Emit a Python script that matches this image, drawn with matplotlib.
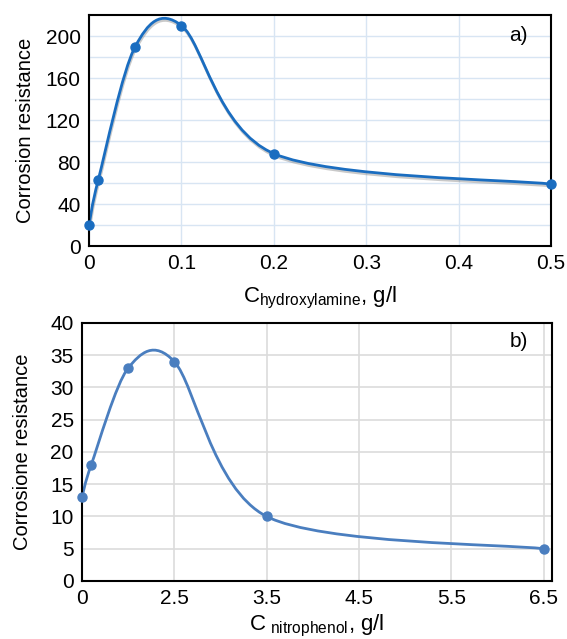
import numpy as np
import matplotlib
matplotlib.use("Agg")
import matplotlib.pyplot as plt
from matplotlib.path import Path
from matplotlib.patches import PathPatch
import matplotlib.patheffects as pe

plt.rcParams['font.family'] = ['Liberation Sans', 'DejaVu Sans']
plt.rcParams['mathtext.fontset'] = 'custom'
plt.rcParams['mathtext.rm'] = 'Liberation Sans'

# a) hydroxylamine
x_a = [0, 0.01, 0.05, 0.1, 0.2, 0.5]
y_a = [20, 63, 190, 210, 88, 59]
xticks_a = [0, 0.1, 0.2, 0.3, 0.4, 0.5]
xticklabels_a = ["0", "0.1", "0.2", "0.3", "0.4", "0.5"]
yticks_a = [0, 40, 80, 120, 160, 200]

# b) nitrophenol (axis spacing is not linear)
x_b = [0, 0.25, 1.25, 2.5, 3.5, 6.5]
y_b = [13, 18, 33, 34, 10, 5]
xticks_b = [0, 2.5, 3.5, 4.5, 5.5, 6.5]
xticklabels_b = ["0", "2.5", "3.5", "4.5", "5.5", "6.5"]
yticks_b = [0, 5, 10, 15, 20, 25, 30, 35, 40]


def smooth_path(ax, xs, ys, k=6.5):
    # Catmull-Rom style bezier computed in pixel space
    pts = ax.transData.transform(np.column_stack([xs, ys]))
    n = len(pts)
    verts = [pts[0]]
    codes = [Path.MOVETO]
    for i in range(n - 1):
        p0 = pts[i - 1] if i > 0 else pts[i]
        p1 = pts[i]
        p2 = pts[i + 1]
        p3 = pts[i + 2] if i + 2 < n else pts[i + 1]
        c1 = p1 + (p2 - p0) / k
        c2 = p2 - (p3 - p1) / k
        verts += [c1, c2, p2]
        codes += [Path.CURVE4] * 3
    verts = ax.transData.inverted().transform(np.array(verts))
    return Path(verts, codes)


fig = plt.figure(figsize=(5.67, 6.39), dpi=100)

# ---- panel a
ax1 = fig.add_axes([0.157, 0.615, 0.815, 0.3615])
ax1.set_xlim(0, 0.5)
ax1.set_ylim(0, 220)
ax1.set_xticks(xticks_a)
ax1.set_xticklabels(xticklabels_a)
ax1.set_yticks(yticks_a)
ax1.set_yticks(np.arange(20, 220, 40), minor=True)
ax1.grid(True, which='both', color='#d8e5f3', lw=1)
ax1.set_axisbelow(True)
col_a = '#1a6dc0'
line_a = PathPatch(smooth_path(ax1, x_a, y_a), fill=False, ec=col_a, lw=2,
                   path_effects=[pe.SimpleLineShadow(offset=(0.5, -1.5), shadow_color='#888888', alpha=0.45),
                                 pe.Normal()])
ax1.add_patch(line_a)
ax1.plot(x_a, y_a, 'o', color=col_a, ms=6.5, clip_on=False, zorder=5)
ax1.set_ylabel("Corrosion resistance", fontsize=14.5, labelpad=8)
ax1.set_xlabel(r"C$_{\mathrm{hydroxylamine}}$, g/l", fontsize=16, labelpad=8)
ax1.text(0.93, 0.91, "a)", transform=ax1.transAxes, fontsize=15, ha='center', va='center')

# ---- panel b
pos_b = np.interp(x_b, xticks_b, np.arange(len(xticks_b)))
ax2 = fig.add_axes([0.1446, 0.0908, 0.829, 0.4038])
ax2.set_xlim(0, 5.09)
ax2.set_ylim(0, 40)
ax2.set_xticks(np.arange(len(xticks_b)))
ax2.set_xticklabels(xticklabels_b)
ax2.set_yticks(yticks_b)
ax2.grid(True, color='#dcdcdc', lw=1.2)
ax2.set_axisbelow(True)
col_b = '#4a7ebf'
ax2.add_patch(PathPatch(smooth_path(ax2, pos_b, y_b, k=6.8), fill=False, ec=col_b, lw=2))
ax2.plot(pos_b, y_b, 'o', color=col_b, ms=6.5, clip_on=False, zorder=5)
ax2.set_ylabel("Corrosione resistance", fontsize=14.5, labelpad=13)
ax2.set_xlabel(r"C$_{\ \mathrm{nitrophenol}}$, g/l", fontsize=16, labelpad=3)
ax2.text(0.93, 0.93, "b)", transform=ax2.transAxes, fontsize=15, ha='center', va='center')

for ax in (ax1, ax2):
    ax.tick_params(which='both', length=0, labelsize=15, pad=6)
    for s in ax.spines.values():
        s.set_color('black')
        s.set_linewidth(1.5)

fig.savefig("out.png", dpi=100)
